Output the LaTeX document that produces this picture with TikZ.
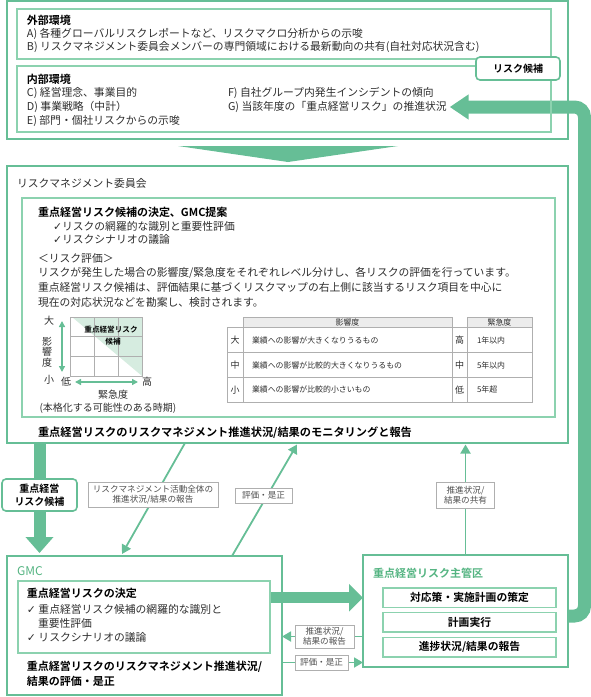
\documentclass[tikz,border=0pt]{standalone}
\usepackage{fontspec}
\setmainfont{Noto Sans CJK JP}[BoldFont={Noto Sans CJK JP Bold}]
\newfontfamily\symfont{DejaVu Sans}
\usetikzlibrary{arrows.meta,calc,backgrounds}
\definecolor{grn}{RGB}{102,190,150}
\definecolor{lgrn}{RGB}{140,210,175}
\definecolor{tgrn}{RGB}{85,180,130}
\definecolor{tri}{RGB}{214,236,224}
\definecolor{gline}{RGB}{175,175,175}
\definecolor{hdr}{RGB}{236,236,236}
\definecolor{txt}{RGB}{45,45,45}
\definecolor{ltxt}{RGB}{80,80,80}
\newcommand\fsz[2]{\fontsize{#1}{#2}\selectfont}
\newcommand\ckm{{\symfont ✓}}
\begin{document}
\begin{tikzpicture}[x=1pt,y=-1pt,
 obox/.style={draw=grn,line width=2pt,outer sep=0pt,inner sep=0pt,anchor=north west},
 ibox/.style={draw=lgrn,line width=1.2pt,outer sep=0pt,inner sep=0pt,anchor=north west},
 candbox/.style={draw=grn,line width=1.6pt,fill=white,rounded corners=4pt,outer sep=0pt,inner sep=0pt,anchor=north west,font=\fsz{10}{12.5}\bfseries,align=center},
 subbox/.style={draw=lgrn,line width=1.2pt,outer sep=0pt,inner sep=0pt,anchor=north west,minimum width=173pt,minimum height=19.5pt,font=\fsz{10.8}{13}\bfseries},
 tx/.style={anchor=west,inner sep=0pt,outer sep=0pt,text=txt,font=\fsz{10.8}{13}},
 bx/.style={anchor=west,inner sep=0pt,outer sep=0pt,text=black,font=\fsz{11}{13}\bfseries},
 lab/.style={draw=gline,fill=white,line width=0.8pt,text=ltxt,font=\fsz{8.6}{10.5},align=center,inner sep=0pt,outer sep=0pt},
 thinarr/.style={draw=grn,line width=1.8pt,-{Triangle[length=9pt,width=10pt]}},
 thickarr/.style={draw=grn,line width=12pt},
 tsm/.style={inner sep=0pt,outer sep=0pt,text=txt,font=\fsz{7.9}{9}},
 gl/.style={draw=gline,line width=0.8pt},
]
\useasboundingbox (0,0) rectangle (591,697);

% ---------- top: environments ----------
\node[obox,minimum width=561pt,minimum height=138pt] (env) at (7,1) {};
\node[ibox,minimum width=534pt,minimum height=50pt] (ext) at (17,9) {};
\node[ibox,minimum width=534pt,minimum height=66pt] (int) at (17,66) {};
\node[candbox,minimum width=84pt,minimum height=23pt] (cand) at (476,57) {リスク候補};

\node[bx] (tExt) at (27,20) {外部環境};
\node[tx] (tA) at (27,33.5) {A) 各種グローバルリスクレポートなど、リスクマクロ分析からの示唆};
\node[tx] (tB) at (27,47.5) {B) リスクマネジメント委員会メンバーの専門領域における最新動向の共有(自社対応状況含む)};
\node[bx] (tInt) at (27,79) {内部環境};
\node[tx] (tC) at (27,93) {C) 経営理念、事業目的};
\node[tx] (tD) at (27,107) {D) 事業戦略（中計）};
\node[tx] (tE) at (27,121) {E) 部門・個社リスクからの示唆};
\node[tx] (tF) at (228,93) {F) 自社グループ内発生インシデントの傾向};
\node[tx] (tG) at (228,107) {G) 当該年度の「重点経営リスク」の推進状況};

\fill[grn] (178,146) -- (398,146) -- (288,162) -- cycle;

% ---------- committee ----------
\node[obox,minimum width=561pt,minimum height=277pt] (com) at (7,166) {};
\node[ibox,minimum width=533pt,minimum height=219pt] (comin) at (22,198) {};
\node[tx] (tCom) at (17,183) {リスクマネジメント委員会};
\node[bx] (tC1) at (38,212) {重点経営リスク候補の決定、GMC提案};
\node[tx] (tC2) at (53,226) {\ckm リスクの網羅的な識別と重要性評価};
\node[tx] (tC3) at (53,239.5) {\ckm リスクシナリオの議論};
\node[tx] (tC4) at (38,258) {＜リスク評価＞};
\node[tx] (tC5) at (38,273) {リスクが発生した場合の影響度/緊急度をそれぞれレベル分けし、各リスクの評価を行っています。};
\node[tx] (tC6) at (38,287.5) {重点経営リスク候補は、評価結果に基づくリスクマップの右上側に該当するリスク項目を中心に};
\node[tx] (tC7) at (38,302) {現在の対応状況などを勘案し、検討されます。};

% risk map
\fill[tri] (72,317) -- (142,317) -- (142,376) -- cycle;
\draw[gl] (70,317) rectangle (142,376);
\foreach \i in {94,118} \draw[gl] (\i,317) -- (\i,376);
\foreach \j in {336.7,356.3} \draw[gl] (70,\j) -- (142,\j);
\node[tsm,text=black,font=\fsz{7.6}{9}\bfseries] (mA) at (111,330) {重点経営リスク};
\node[tsm,text=black,font=\fsz{7.6}{9}\bfseries] (mB) at (113,342) {候補};
\draw[draw=grn,line width=1.4pt,{Triangle[length=6pt,width=6pt]}-{Triangle[length=6pt,width=6pt]}] (62,321) -- (62,372);
\draw[draw=grn,line width=1.4pt,{Triangle[length=6pt,width=6pt]}-{Triangle[length=6pt,width=6pt]}] (75,382) -- (138,382);
\node[tx,anchor=center,font=\fsz{10}{11}] (mBig) at (49,321) {大};
\node[tx,anchor=center,font=\fsz{10}{10.5},align=center] (mImp) at (47,352) {影\\響\\度};
\node[tx,anchor=center,font=\fsz{10}{11}] (mSmall) at (49,380) {小};
\node[tx,anchor=center,font=\fsz{10}{11}] (mLow) at (66,382) {低};
\node[tx,anchor=center,font=\fsz{10}{11}] (mHigh) at (147,382) {高};
\node[tx,anchor=center,font=\fsz{10}{11}] (mUrg) at (113,395) {緊急度};
\node[tx,anchor=center,font=\fsz{10}{11}] (mUrg2) at (108,408) {(本格化する可能性のある時期)};

% tables
\fill[hdr] (243,317) rectangle (452,327);
\draw[gl] (243,317) rectangle (452,327);
\fill[hdr] (467,317) rectangle (532,327);
\draw[gl] (467,317) rectangle (532,327);
\draw[gl] (227,327) rectangle (532,402);
\foreach \j in {352.7,377.3} \draw[gl] (227,\j) -- (532,\j);
\foreach \i in {243,452,467} \draw[gl] (\i,327) -- (\i,402);
\node[tsm] (hImp) at (347.5,322) {影響度};
\node[tsm] (hUrg) at (499.5,322) {緊急度};
\node[tsm,font=\fsz{9}{10}] (r1a) at (235,340) {大};
\node[tsm,font=\fsz{9}{10}] (r2a) at (235,365) {中};
\node[tsm,font=\fsz{9}{10}] (r3a) at (235,389.7) {小};
\node[tsm,anchor=west] (r1b) at (252,340) {業績への影響が大きくなりうるもの};
\node[tsm,anchor=west] (r2b) at (252,365) {業績への影響が比較的大きくなりうるもの};
\node[tsm,anchor=west] (r3b) at (252,389.7) {業績への影響が比較的小さいもの};
\node[tsm,font=\fsz{9}{10}] (r1c) at (459.5,340) {高};
\node[tsm,font=\fsz{9}{10}] (r2c) at (459.5,365) {中};
\node[tsm,font=\fsz{9}{10}] (r3c) at (459.5,389.7) {低};
\node[tsm,anchor=west] (r1d) at (477,340) {1年以内};
\node[tsm,anchor=west] (r2d) at (477,365) {5年以内};
\node[tsm,anchor=west] (r3d) at (477,389.7) {5年超};

\node[bx,font=\fsz{11.2}{13}\bfseries] (tMon) at (38,433) {重点経営リスクのリスクマネジメント推進状況/結果のモニタリングと報告};

% ---------- GMC ----------
\node[obox,minimum width=275pt,minimum height=139pt] (gmc) at (7,556) {};
\node[ibox,minimum width=252pt,minimum height=72pt] (gmcin) at (18,581) {};
\node[tx,text=tgrn,font=\fsz{12}{14}] (tGmc) at (17,571) {GMC};
\node[bx] (tG1) at (27,593) {重点経営リスクの決定};
\node[tx] (tG2) at (27,609) {\ckm\ 重点経営リスク候補の網羅的な識別と};
\node[tx] (tG3) at (38,623) {重要性評価};
\node[tx] (tG4) at (27,637) {\ckm\ リスクシナリオの議論};
\node[bx] (tG5) at (27,667) {重点経営リスクのリスクマネジメント推進状況/};
\node[bx] (tG6) at (27,681) {結果の評価・是正};

% ---------- owner division ----------
\node[obox,minimum width=205pt,minimum height=112pt] (shu) at (363,555) {};
\node[tx,text=tgrn,font=\fsz{11}{13}\bfseries] (tShu) at (373,573) {重点経営リスク主管区};
\node[subbox] (s1) at (383,588) {対応策・実施計画の策定};
\node[subbox] (s2) at (383,612.5) {計画実行};
\node[subbox] (s3) at (383,637.5) {進捗状況/結果の報告};

% candidate box on left
\node[candbox,minimum width=75pt,minimum height=32pt] (cand2) at (2,479) {重点経営\\リスク候補};

% labels
\node[lab,minimum width=130pt,minimum height=25pt] (l1) at (153,494.5) {リスクマネジメント活動全体の\\推進状況/結果の報告};
\node[lab,minimum width=57pt,minimum height=15pt] (l2) at (263.5,495.5) {評価・是正};
\node[lab,minimum width=58pt,minimum height=26pt] (l3) at (465.5,495) {推進状況/\\結果の共有};
\node[lab,minimum width=59pt,minimum height=23pt] (l4) at (324.5,636.5) {推進状況/\\結果の報告};
\node[lab,minimum width=53pt,minimum height=15pt] (l5) at (321.5,662.5) {評価・是正};

% ---------- connectors ----------
\begin{pgfonlayer}{background}
\draw[thickarr,-{Triangle[length=16pt,width=27pt]},shorten >=3pt] (com.south -| cand2) -- (gmc.north -| cand2);
\draw[thickarr,line width=11pt,-{Triangle[length=14pt,width=27pt]}] (gmcin.east |- s1) -- (shu.west |- s1);
\draw[thickarr,line width=13pt,rounded corners=10pt,-{Triangle[length=19pt,width=24pt]}] ($(shu.east)+(0,5)$) -- ++(16.5,0) |- ($(tG.east)+(3,0)$);
\draw[thinarr] ($(com.south west)+(178,0)$) -- ($(gmc.north west)+(115,-2)$);
\draw[thinarr] ($(gmc.north west)+(225,0)$) -- ($(com.south west)+(290,1.5)$);
\draw[thinarr] (shu.north -| l3) -- ($(com.south -| l3)+(0,1.5)$);
\draw[thinarr] (shu.west |- l4) -- (gmc.east |- l4);
\draw[thinarr] (gmc.east |- l5) -- (shu.west |- l5);
\end{pgfonlayer}
\end{tikzpicture}
\end{document}
